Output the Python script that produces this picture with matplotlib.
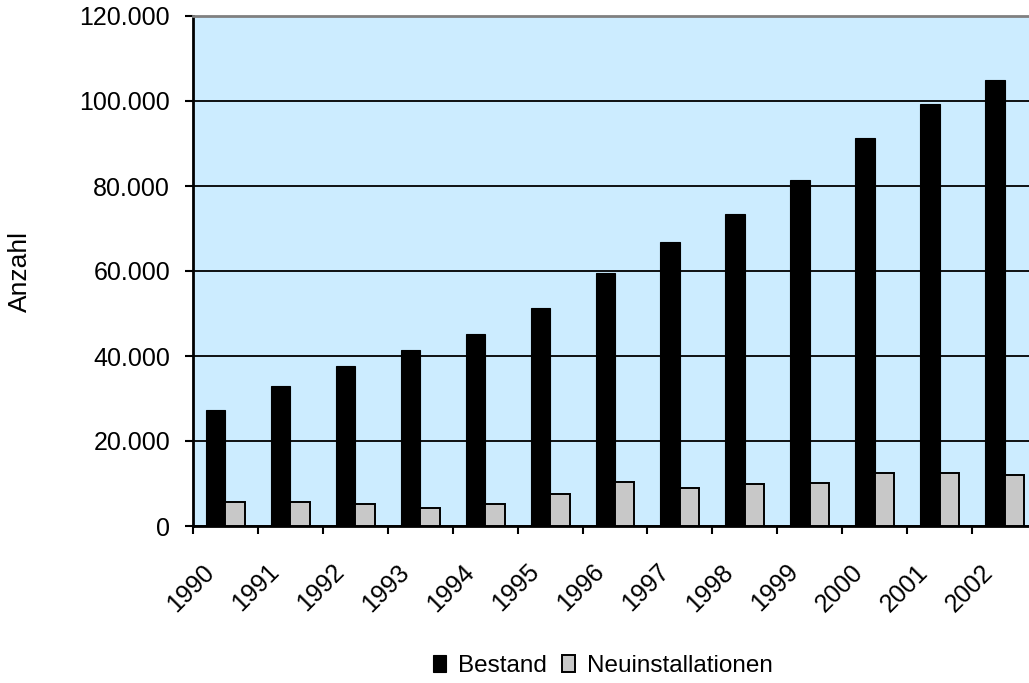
import numpy as np
from matplotlib import pyplot as plt
from matplotlib.ticker import FuncFormatter, FixedLocator
from matplotlib.transforms import ScaledTranslation

plt.rcParams['font.family'] = ['Liberation Sans', 'DejaVu Sans']

jahre = ['1990', '1991', '1992', '1993', '1994', '1995', '1996',
         '1997', '1998', '1999', '2000', '2001', '2002']
bestand = [27300, 32900, 37700, 41400, 45200, 51200, 59600,
           66800, 73400, 81400, 91300, 99300, 104900]
neuinstallationen = [5600, 5600, 5100, 4200, 5100, 7500, 10300,
                     8900, 9800, 10200, 12500, 12500, 12000]

hintergrund = '#CCECFF'
grau = '#C8C8C8'

fig = plt.figure(figsize=(10.29, 6.83), dpi=100)
# Zeichenfläche läuft rechts über den Bildrand hinaus
ax = fig.add_axes([193 / 1029, 1 - 526 / 683, 844 / 1029, 510 / 683])
ax.set_facecolor(hintergrund)

x = np.arange(len(jahre))
b = 0.3
ax.bar(x + 0.5 - b / 2, bestand, b, color='black', edgecolor='black',
       linewidth=0.8, label='Bestand', zorder=3)
ax.bar(x + 0.5 + b / 2, neuinstallationen, b, color=grau, edgecolor='black',
       linewidth=1.4, label='Neuinstallationen', zorder=3)

ax.set_xlim(0, len(jahre))
ax.set_ylim(0, 120000)
ax.set_yticks(np.arange(0, 120001, 20000))
ax.yaxis.set_major_formatter(FuncFormatter(lambda v, p: f'{int(v):,}'.replace(',', '.')))
ax.grid(axis='y', color='black', linewidth=1.3)
ax.set_axisbelow(True)

# Striche an den Kategoriegrenzen, Jahreszahlen mittig darunter
ax.xaxis.set_major_locator(FixedLocator(x))
ax.xaxis.set_major_formatter(FuncFormatter(lambda v, p: ''))
ax.set_xticks(x + 0.5, labels=jahre, minor=True)
ax.tick_params(axis='x', which='minor', length=0, pad=34, labelsize=18)
ax.tick_params(axis='x', which='major', length=6, width=1.5, direction='out')
ax.tick_params(axis='y', length=6, width=1.5, pad=10.5, labelsize=18)
for lab in ax.get_xticklabels(minor=True):
    lab.set_rotation(45)
    lab.set_ha('right')
    lab.set_va('baseline')
    lab.set_rotation_mode('anchor')
    lab.set_transform(lab.get_transform() + ScaledTranslation(-0.10, 0, fig.dpi_scale_trans))

for s in ['left', 'bottom']:
    ax.spines[s].set_color('black')
    ax.spines[s].set_linewidth(2)
for s in ['top', 'right']:
    ax.spines[s].set_color('#808080')
    ax.spines[s].set_linewidth(2)

ax.set_ylabel('Anzahl', fontsize=19)
ax.yaxis.set_label_coords(-0.191, 0.5)

fig.legend(loc='center', bbox_to_anchor=(603 / 1029, 1 - 666 / 683), ncol=2,
           frameon=False, fontsize=17.5, handlelength=0.5, handleheight=0.65,
           handletextpad=0.5, columnspacing=0.65)

fig.savefig('out.png', dpi=100)
